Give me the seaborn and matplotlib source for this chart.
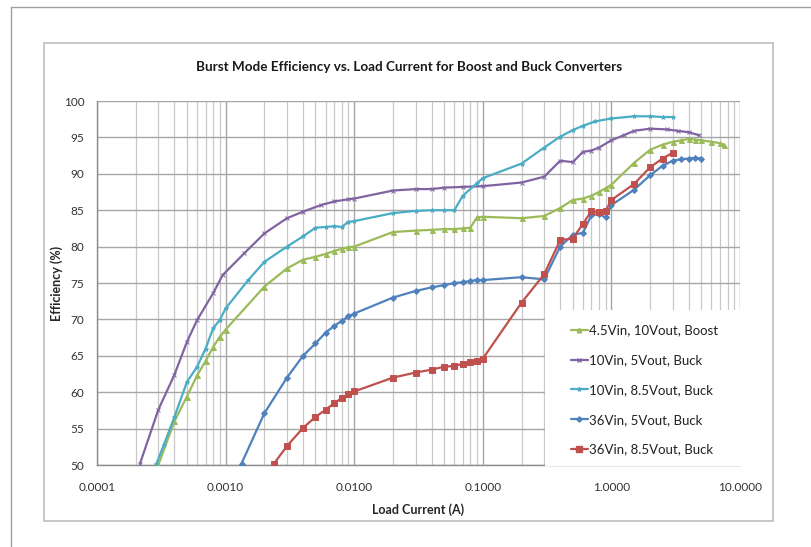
import numpy as np
import pandas as pd
import matplotlib
matplotlib.use("Agg")
import matplotlib.pyplot as plt
from matplotlib.ticker import FixedLocator, NullFormatter, LogLocator
from matplotlib.patches import Rectangle
from matplotlib.lines import Line2D
import seaborn as sns

# ---------------- data ----------------
boost_x = [0.0003, 0.0004, 0.0005, 0.0006, 0.0007, 0.0008, 0.0009, 0.001, 0.002, 0.003,
           0.004, 0.005, 0.006, 0.007, 0.008, 0.009, 0.01, 0.02, 0.03, 0.04, 0.05, 0.06,
           0.07, 0.08, 0.09, 0.1, 0.2, 0.3, 0.4, 0.5, 0.6, 0.7, 0.8, 0.9, 1.0, 1.5, 2.0,
           2.5, 3.0, 3.5, 4.0, 4.5, 5.0, 6.0, 7.0, 7.5]
boost_y = [50.0, 56.0, 59.4, 62.3, 64.3, 66.2, 67.6, 68.6, 74.5, 77.0,
           78.2, 78.6, 79.0, 79.4, 79.7, 79.9, 80.0, 82.0, 82.2, 82.3, 82.4, 82.4,
           82.5, 82.6, 84.0, 84.1, 83.9, 84.2, 85.3, 86.4, 86.6, 87.0, 87.5, 88.0, 88.5, 91.5, 93.3,
           94.0, 94.4, 94.6, 94.8, 94.7, 94.6, 94.4, 94.2, 94.0]

buck10_5_x = [0.000216, 0.0003, 0.0004, 0.0005, 0.0006, 0.0008, 0.00095, 0.0014, 0.002, 0.003,
              0.004, 0.0055, 0.007, 0.009, 0.01, 0.02, 0.03, 0.04, 0.05, 0.07, 0.1, 0.2,
              0.3, 0.4, 0.5, 0.6, 0.7, 0.8, 1.0, 1.25, 1.5, 2.0, 2.7, 3.3, 4.0, 4.8]
buck10_5_y = [50.2, 57.6, 62.4, 66.9, 69.9, 73.6, 76.1, 79.1, 81.8, 83.9,
              84.8, 85.7, 86.2, 86.5, 86.6, 87.7, 87.9, 87.9, 88.1, 88.2, 88.3, 88.8,
              89.6, 91.8, 91.6, 93.0, 93.2, 93.6, 94.6, 95.3, 95.9, 96.2, 96.1, 95.9, 95.7, 95.3]

buck10_85_x = [0.00029, 0.00033, 0.0004, 0.0005, 0.0006, 0.0007, 0.0008, 0.0009, 0.001, 0.0015,
               0.002, 0.003, 0.004, 0.005, 0.006, 0.007, 0.008, 0.009, 0.01, 0.02, 0.03,
               0.04, 0.05, 0.06, 0.07, 0.09, 0.1, 0.2, 0.3, 0.4, 0.5, 0.6, 0.75, 1.0, 1.5,
               2.0, 2.5, 3.0]
buck10_85_y = [50.2, 52.7, 56.6, 61.4, 63.5, 66.0, 68.8, 69.9, 71.5, 75.4,
               77.9, 80.0, 81.4, 82.6, 82.7, 82.8, 82.7, 83.4, 83.5, 84.6, 84.9,
               85.0, 85.0, 85.0, 87.0, 88.7, 89.4, 91.4, 93.6, 95.1, 96.0, 96.6, 97.2, 97.6, 97.9,
               97.9, 97.8, 97.8]

buck36_5_x = [0.00133, 0.002, 0.003, 0.004, 0.005, 0.006, 0.007, 0.008, 0.009, 0.01,
              0.02, 0.03, 0.04, 0.05, 0.06, 0.07, 0.08, 0.09, 0.1, 0.2, 0.3, 0.4,
              0.5, 0.6, 0.7, 0.8, 0.9, 1.0, 1.5, 2.0, 2.5, 3.0, 3.5, 4.0, 4.5, 5.0]
buck36_5_y = [50.2, 57.1, 62.0, 65.0, 66.7, 68.2, 69.1, 69.8, 70.4, 70.8,
              73.0, 73.9, 74.4, 74.7, 75.0, 75.1, 75.3, 75.4, 75.4, 75.8, 75.5, 80.0,
              81.6, 81.9, 84.3, 84.5, 84.0, 85.7, 87.8, 89.8, 91.1, 91.8, 92.0, 92.1, 92.2, 92.1]

buck36_85_x = [0.00238, 0.003, 0.004, 0.005, 0.006, 0.007, 0.008, 0.009, 0.01, 0.02,
               0.03, 0.04, 0.05, 0.06, 0.07, 0.08, 0.09, 0.1, 0.2, 0.3, 0.4, 0.5,
               0.6, 0.7, 0.8, 0.9, 1.0, 1.5, 2.0, 2.5, 3.0]
buck36_85_y = [50.2, 52.6, 55.1, 56.6, 57.6, 58.5, 59.2, 59.7, 60.1, 62.0,
               62.7, 63.1, 63.5, 63.6, 63.9, 64.1, 64.3, 64.6, 72.3, 76.2, 80.9, 81.1,
               83.1, 84.9, 84.7, 84.9, 86.4, 88.6, 90.9, 92.1, 92.9]

series_names = ["4.5Vin, 10Vout, Boost", "10Vin, 5Vout, Buck", "10Vin, 8.5Vout, Buck",
                "36Vin, 5Vout, Buck", "36Vin, 8.5Vout, Buck"]
series_x = [boost_x, buck10_5_x, buck10_85_x, buck36_5_x, buck36_85_x]
series_y = [boost_y, buck10_5_y, buck10_85_y, buck36_5_y, buck36_85_y]

x_tick_vals = [0.0001, 0.001, 0.01, 0.1, 1, 10]
x_tick_labels = ["0.0001", "0.0010", "0.0100", "0.1000", "1.0000", "10.0000"]
y_tick_vals = [50, 55, 60, 65, 70, 75, 80, 85, 90, 95, 100]

# ---------------- style ----------------
colors = ["#9BBB59", "#8064A2", "#4BACC6", "#4F81BD", "#C0504D"]
markers = ["^", "x", "*", "D", "s"]
msizes = [3.6, 2.6, 3.2, 3.0, 4.6]

sns.set_style("white")
plt.rcParams["font.family"] = ["Lato", "DejaVu Sans"]

fig = plt.figure(figsize=(8.12, 5.47), dpi=100)
ax = fig.add_axes([97/812, 1-465/547, (740-97)/812, (465-101)/547])

for name, xs, ys, c, m, ms in zip(series_names, series_x, series_y, colors, markers, msizes):
    df = pd.DataFrame({"x": xs, "y": ys})
    sns.lineplot(data=df, x="x", y="y", ax=ax, color=c, marker=m, markersize=ms,
                 markeredgecolor=c, markeredgewidth=0.7, linewidth=1.6,
                 estimator=None, sort=False, label=name, zorder=3)

ax.set_xscale("log")
ax.set_xlim(1e-4, 10)
ax.set_ylim(50, 100)

ax.xaxis.set_major_locator(FixedLocator(x_tick_vals))
ax.set_xticklabels(x_tick_labels)
ax.xaxis.set_minor_locator(LogLocator(base=10, subs=np.arange(2, 10)))
ax.xaxis.set_minor_formatter(NullFormatter())
ax.set_yticks(y_tick_vals)

ax.grid(True, which="major", axis="both", color="#a6a6a6", linewidth=1.0)
ax.grid(True, which="minor", axis="x", color="#c8c8c8", linewidth=0.9)
ax.set_axisbelow(True)

for s in ["top", "right"]:
    ax.spines[s].set_visible(False)
for s in ["left", "bottom"]:
    ax.spines[s].set_color("#8c8c8c")
    ax.spines[s].set_linewidth(1.0)

ax.tick_params(axis="both", which="major", length=4, color="#8c8c8c", labelsize=8.5,
               labelcolor="#333333", direction="out")
ax.tick_params(axis="x", which="minor", length=0)
ax.tick_params(axis="x", pad=8)
ax.tick_params(axis="y", pad=5)

ax.set_xlabel("Load Current (A)", fontsize=9, fontweight="bold", labelpad=8)
ax.set_ylabel("Efficiency (%)", fontsize=9, fontweight="bold")
ax.yaxis.set_label_coords((63-97)/643, 0.5)

fig.text(409/812, 1-67/547, "Burst Mode Efficiency vs. Load Current for Boost and Buck Converters",
         ha="center", va="center", fontsize=9.7, fontweight="bold", color="#1a1a1a")

# white legend area (covers grid like the original chart's legend box)
ax.add_patch(Rectangle(((545-97)/643, (465-466)/364), (752-545)/643, (466-310)/364,
                       transform=ax.transAxes, facecolor="white", edgecolor="none",
                       clip_on=False, zorder=4))

handles = [Line2D([0], [0], color=c, marker=m, markersize=ms * 0.9, linewidth=1.6,
                  markeredgecolor=c) for c, m, ms in zip(colors, markers, msizes)]
leg = ax.legend(handles, series_names, loc="upper left", bbox_to_anchor=(0.712, 0.43),
                frameon=False, fontsize=9.5, labelspacing=1.35, handlelength=1.3,
                handletextpad=0.1, borderpad=0.7)
leg.set_zorder(5)
for t in leg.get_texts():
    t.set_color("#222222")

# chart frames
fig.patches.append(Rectangle((44/812, 1-521/547), (773-44)/812, (521-43)/547,
                             transform=fig.transFigure, fill=False, edgecolor="#bdbdbd",
                             linewidth=1.2))
fig.add_artist(Line2D([11/812, 11/812], [0, 1-7/547], transform=fig.transFigure,
                      color="#a0a0a0", linewidth=1.0))
fig.add_artist(Line2D([11/812, 1], [1-7/547, 1-7/547], transform=fig.transFigure,
                      color="#a0a0a0", linewidth=1.0))

fig.savefig("out.png", dpi=100)
